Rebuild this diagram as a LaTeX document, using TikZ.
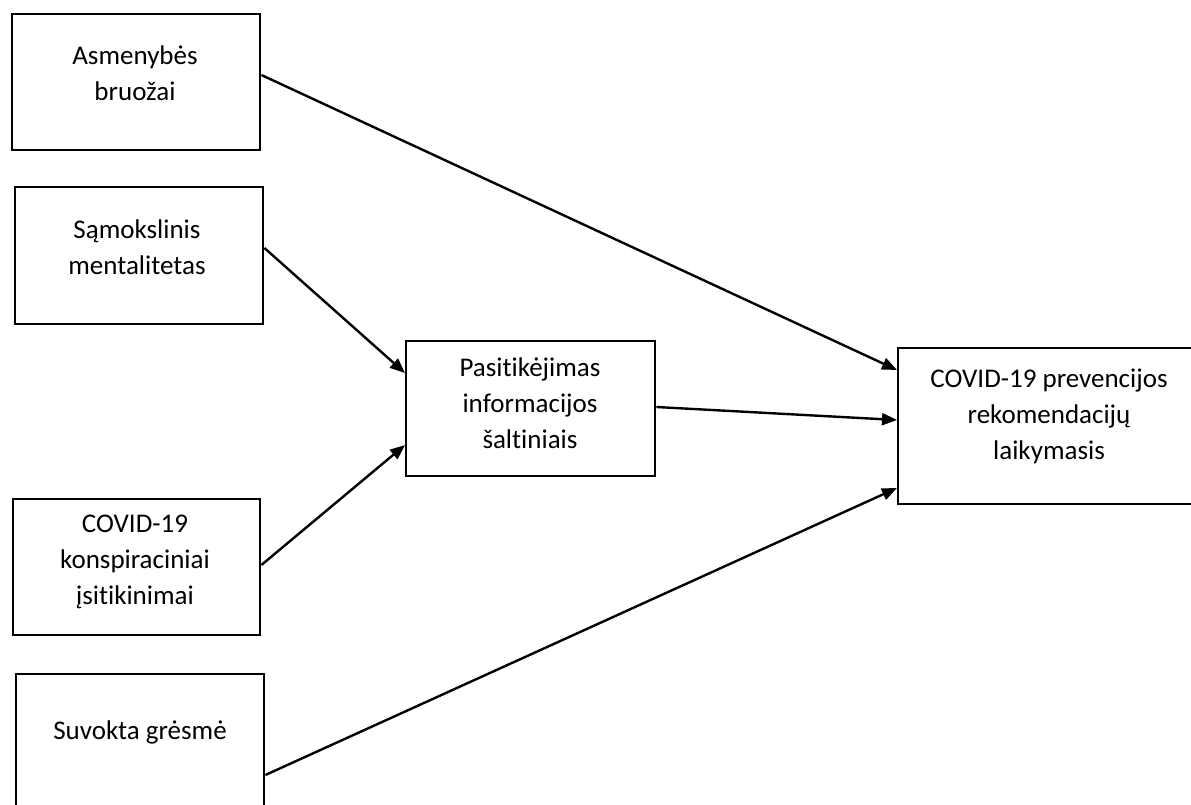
\documentclass[tikz,border=0pt]{standalone}
\usepackage{fontspec}
\setmainfont{Carlito}[Ligatures=NoCommon]
\usetikzlibrary{arrows.meta,calc}
\begin{document}
\begin{tikzpicture}[x=1pt,y=-1pt,
  box/.style={draw,line width=2.4pt,rectangle,anchor=north west,inner sep=0pt},
  lbl/.style={align=center,font=\fontsize{27}{36}\selectfont,inner sep=0pt},
  link/.style={line width=2.4pt,-{Triangle[length=15pt,width=12pt]}}]
\clip (0,0) rectangle (1191,805);
\fill[white] (0,0) rectangle (1191,805);
% boxes
\node[box,minimum width=248pt,minimum height=136pt] (b1) at (11,13) {};
\node[box,minimum width=248pt,minimum height=137pt] (b2) at (14,186) {};
\node[box,minimum width=249pt,minimum height=135pt] (b3) at (405,340) {};
\node[box,minimum width=247pt,minimum height=136pt] (b4) at (12,498) {};
\node[box,minimum width=248pt,minimum height=180pt] (b5) at (15,673) {};
\node[box,minimum width=340pt,minimum height=156pt] (b6) at (897,347) {};
% texts
\node[lbl] (t1) at (135,73) {Asmenybės\\bruožai};
\node[lbl] (t2) at (137,247) {Sąmokslinis\\mentalitetas};
\node[lbl] (t3) at (530,403) {Pasitikėjimas\\informacijos\\šaltiniais};
\node[lbl] (t4) at (135,562) {COVID-19\\konspiraciniai\\įsitikinimai};
\node[lbl] (t5) at (140,732) {Suvokta grėsmė};
\node[lbl] (t6) at (1049,416) {COVID-19 prevencijos\\rekomendacijų\\laikymasis};
% connectors
\draw[link] ($(b1.north east)+(0,62)$) -- ($(b6.north west)+(0,23)$);
\draw[link] ($(b2.north east)+(0,62)$) -- ($(b3.north west)+(0,33)$);
\draw[link] ($(b4.north east)+(0,67)$) -- ($(b3.north west)+(0,105)$);
\draw[link] ($(b3.north east)+(0,67)$) -- ($(b6.north west)+(0,73)$);
\draw[link] ($(b5.north east)+(0,102)$) -- ($(b6.north west)+(0,141)$);
\end{tikzpicture}
\end{document}
